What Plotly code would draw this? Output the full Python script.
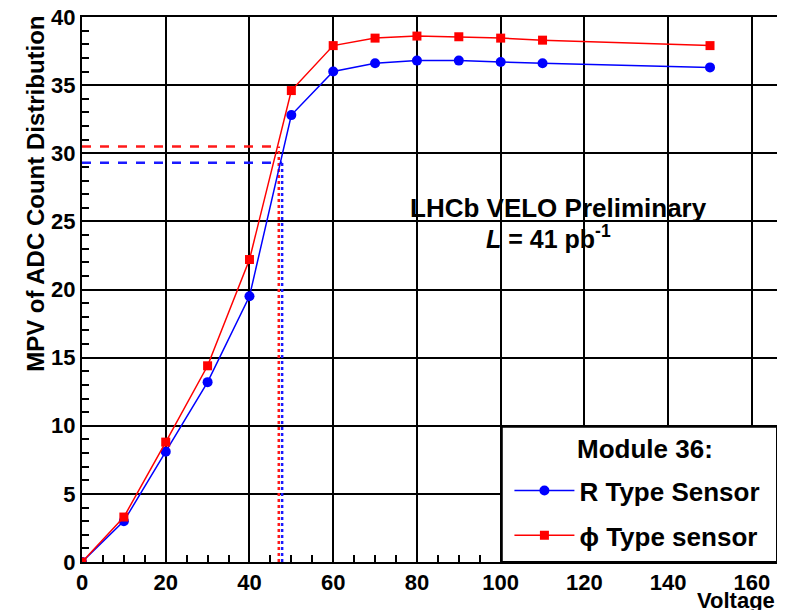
import plotly.graph_objects as go

voltage = [0, 10, 20, 30, 40, 50, 60, 70, 80, 90, 100, 110, 150]
r_type = [0.0, 3.0, 8.1, 13.2, 19.5, 32.8, 36.0, 36.6, 36.8, 36.8, 36.7, 36.6, 36.3]
phi_type = [0.0, 3.3, 8.8, 14.4, 22.2, 34.6, 37.9, 38.45, 38.6, 38.55, 38.45, 38.3, 37.9]

r_depl_v, r_depl_mpv = 47.8, 29.3
phi_depl_v, phi_depl_mpv = 47.0, 30.5

FONT = "Liberation Sans"
fig = go.Figure()

# depletion guide lines
fig.add_trace(go.Scatter(x=[0, phi_depl_v], y=[phi_depl_mpv, phi_depl_mpv], mode="lines",
                         line=dict(color="#ff1a1a", width=2.5, dash="dash"), showlegend=False, hoverinfo="skip"))
fig.add_trace(go.Scatter(x=[phi_depl_v, phi_depl_v], y=[0, phi_depl_mpv], mode="lines",
                         line=dict(color="#ff1a1a", width=2.5, dash="dot"), showlegend=False, hoverinfo="skip"))
fig.add_trace(go.Scatter(x=[0, r_depl_v], y=[r_depl_mpv, r_depl_mpv], mode="lines",
                         line=dict(color="#1a1aff", width=2.5, dash="dash"), showlegend=False, hoverinfo="skip"))
fig.add_trace(go.Scatter(x=[r_depl_v, r_depl_v], y=[0, r_depl_mpv], mode="lines",
                         line=dict(color="#1a1aff", width=2.5, dash="dot"), showlegend=False, hoverinfo="skip"))

fig.add_trace(go.Scatter(x=voltage, y=r_type, mode="lines+markers", name="R Type Sensor",
                         legendgroup="r",
                         line=dict(color="#0000ff", width=1.5),
                         marker=dict(symbol="circle", size=10, color="#0000ff")))
fig.add_trace(go.Scatter(x=voltage, y=phi_type, mode="lines+markers", name="\u03d5 Type sensor",
                         legendgroup="phi",
                         line=dict(color="#ff0000", width=1.5),
                         marker=dict(symbol="square", size=9, color="#ff0000")))

axis_font = dict(family=FONT, size=22, color="black", weight="bold")
fig.update_xaxes(range=[0, 166], dtick=20, tick0=0, showgrid=True, gridcolor="black", gridwidth=1.5,
                 ticks="inside", ticklen=12, tickwidth=1.5, tickcolor="black",
                 minor=dict(dtick=5, ticks="inside", ticklen=7, tickcolor="black", showgrid=False),
                 showline=True, linecolor="black", linewidth=2, mirror=True, zeroline=False,
                 tickfont=axis_font, automargin=False, ticklabeloverflow="allow")
fig.update_yaxes(range=[0, 40], dtick=5, tick0=0, showgrid=True, gridcolor="black", gridwidth=1.5,
                 ticks="inside", ticklen=12, tickwidth=1.5, tickcolor="black",
                 minor=dict(dtick=1, ticks="inside", ticklen=7, tickcolor="black", showgrid=False),
                 showline=True, linecolor="black", linewidth=2, mirror=True, zeroline=False,
                 tickfont=axis_font, automargin=False, ticklabeloverflow="allow")

# legend box
fig.add_shape(type="rect", xref="paper", yref="paper", x0=0.604, x1=1.0, y0=0.0, y1=0.248,
              line=dict(color="black", width=2), fillcolor="white", layer="above")
fig.add_annotation(x=0.81, y=0.207, xref="paper", yref="paper", text="Module 36:", showarrow=False,
                   xanchor="center", yanchor="middle",
                   font=dict(family=FONT, size=26, color="black", weight="bold"))

fig.add_annotation(x=1, y=-0.044, xref="paper", yref="paper", text="Voltage", showarrow=False,
                   xanchor="right", yanchor="top", font=dict(family=FONT, size=22, color="black", weight="bold"))
fig.add_annotation(x=-0.066, y=1.006, xref="paper", yref="paper", text="MPV of ADC Count Distribution",
                   showarrow=False, textangle=-90, xanchor="center", yanchor="top",
                   font=dict(family=FONT, size=24, color="black", weight="bold"))
fig.add_annotation(x=113.9, y=26.0, text="LHCb VELO Preliminary", showarrow=False,
                   font=dict(family=FONT, size=26, color="black", weight="bold"))
fig.add_annotation(x=111.5, y=23.85, text="<i>L</i> = 41 pb<sup>-1</sup>", showarrow=False,
                   font=dict(family=FONT, size=25, color="black", weight="bold"))

fig.update_layout(
    width=785, height=610,
    margin=dict(l=74, r=16, t=9, b=56),
    paper_bgcolor="white", plot_bgcolor="white",
    legend=dict(x=0.615, y=0.174, xanchor="left", yanchor="top", bgcolor="rgba(0,0,0,0)",
                borderwidth=0,
                font=dict(family=FONT, size=26, color="black", weight="bold"),
                itemwidth=60, tracegroupgap=8),
    showlegend=True,
)

fig.write_html("out.html")
